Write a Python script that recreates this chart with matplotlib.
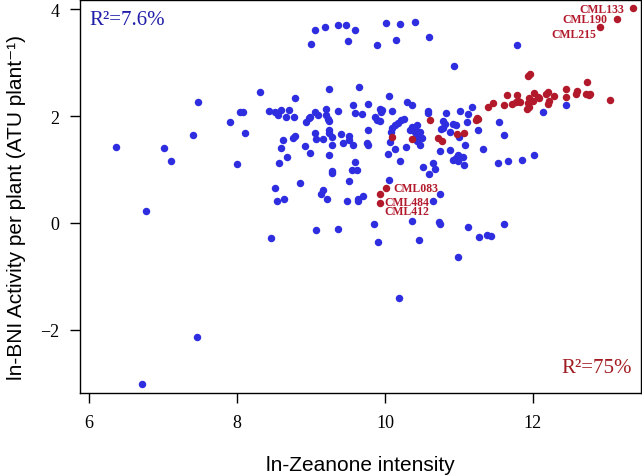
import matplotlib
matplotlib.use("Agg")
import matplotlib.pyplot as plt

# blue: all lines
blue_x = [6.36, 6.72, 6.77, 7.02, 7.11, 7.41, 7.46, 7.48, 7.91, 8.00, 8.04, 8.08, 8.11, 8.31, 8.44,
          8.46, 8.51, 8.52, 8.54, 8.56, 8.57, 8.59, 8.59, 8.62, 8.64, 8.67, 8.68, 8.71, 8.76, 8.77,
          8.79, 8.79, 8.85, 8.92, 8.94, 8.97, 8.99, 8.99, 9.00, 9.06, 9.06, 9.06, 9.07, 9.07, 9.10,
          9.14, 9.17, 9.17, 9.19, 9.20, 9.21, 9.22, 9.23, 9.24, 9.24, 9.24, 9.24, 9.25, 9.28, 9.28,
          9.29, 9.29, 9.36, 9.36, 9.37, 9.40, 9.43, 9.48, 9.49, 9.50, 9.51, 9.51, 9.52, 9.56, 9.57,
          9.57, 9.59, 9.60, 9.60, 9.62, 9.63, 9.64, 9.65, 9.69, 9.70, 9.76, 9.77, 9.77, 9.77, 9.85,
          9.86, 9.89, 9.89, 9.91, 9.93, 9.93, 9.95, 9.96, 10.02, 10.04, 10.05, 10.06, 10.07, 10.08, 10.09,
          10.10, 10.13, 10.14, 10.15, 10.18, 10.19, 10.20, 10.20, 10.22, 10.26, 10.28, 10.30, 10.34, 10.36, 10.37,
          10.37, 10.40, 10.41, 10.41, 10.43, 10.43, 10.43, 10.44, 10.46, 10.47, 10.48, 10.50, 10.52, 10.58, 10.58,
          10.59, 10.60, 10.65, 10.65, 10.67, 10.73, 10.74, 10.75, 10.75, 10.76, 10.78, 10.79, 10.81, 10.82, 10.88,
          10.88, 10.92, 10.92, 10.94, 10.96, 10.96, 10.99, 10.99, 10.99, 11.00, 11.02, 11.06, 11.07, 11.08, 11.11,
          11.12, 11.12, 11.17, 11.26, 11.27, 11.32, 11.38, 11.44, 11.53, 11.54, 11.61, 11.61, 11.66, 11.78, 11.85,
          12.01, 12.14, 12.45]
blue_y = [1.43, -3.02, 0.22, 1.40, 1.16, 1.64, -2.14, 2.27, 1.88, 1.10, 2.08, 2.08, 1.68, 2.45, 2.09,
          -0.28, 2.07, 0.65, 0.42, 2.02, 1.13, 2.11, 1.40, 1.55, 0.45, 1.99, 1.24, 2.11, 1.58, 1.99,
          1.62, 2.33, 0.75, 1.44, 1.89, 1.96, 1.99, 1.30, 3.35, 3.61, 2.07, 1.68, 1.57, -0.14, 2.02,
          0.55, 0.62, 1.57, 3.67, 2.13, 2.02, 0.45, 1.94, 1.91, 2.50, 1.74, 1.28, 1.68, 1.61, 0.93,
          0.97, 1.45, 3.71, -0.12, 2.09, 1.66, 1.49, 3.71, 0.41, 3.41, 1.63, 1.56, 0.79, 0.99, 1.46,
          2.21, 1.14, 2.06, 3.61, 0.99, 0.41, 0.45, 2.54, 2.04, 0.51, 1.50, 1.45, 1.74, 2.22, -0.02,
          1.99, 1.93, 3.32, -0.36, 1.91, 2.13, 2.07, 2.11, 3.74, 1.29, 2.37, 0.81, 1.51, 1.70, 1.77,
          2.09, 1.39, 1.83, 3.43, 1.87, -1.40, 3.73, 1.16, 1.92, 1.94, 1.43, 2.27, 1.73, 0.04, 2.20,
          1.79, 1.58, 1.71, 3.76, 1.83, 1.66, 1.53, 1.71, -0.32, 1.70, 1.45, 1.58, 1.05, 2.10, 2.05,
          3.48, 0.92, 1.13, 0.42, 1.01, 0.02, 0.54, -0.02, 1.35, 1.76, 1.78, 1.91, 1.85, 2.05, 1.71,
          1.37, 1.85, 1.17, 2.94, 1.84, 1.22, -0.64, 1.28, 1.16, 1.61, 2.10, 1.23, 1.08, 1.45, 1.89,
          2.04, -0.07, 2.17, 1.74, -0.26, 1.38, -0.22, -0.24, 1.12, 1.89, 1.65, -0.01, 1.16, 3.33, 1.17,
          1.27, 2.08, 2.20]

# red: CML lines
red_x = [13.35, 13.13, 12.91, 10.01, 9.93, 9.94,
         10.09, 10.36, 10.61, 10.72, 10.77, 10.98, 11.07, 11.24, 11.26, 11.23, 11.39, 11.46, 11.61, 11.65,
         11.72, 11.77, 11.78, 11.80, 11.83, 11.92, 11.93, 11.93, 11.94, 11.95, 11.96, 12.00, 12.02, 12.07,
         12.08, 12.18, 12.21, 12.21, 12.22, 12.28, 12.45, 12.45, 12.58, 12.59, 12.72, 12.73, 12.76, 12.77,
         13.04]
red_y = [4.02, 3.81, 3.67, 0.66, 0.54, 0.38,
         1.60, 1.57, 1.93, 1.58, 1.53, 1.66, 1.68, 1.97, 1.94, 1.92, 2.16, 2.25, 2.21, 2.40,
         2.22, 2.26, 2.39, 2.29, 2.27, 2.14, 2.24, 2.74, 2.33, 2.16, 2.78, 2.28, 2.43, 2.36,
         2.33, 2.42, 2.45, 2.22, 2.28, 2.38, 2.51, 2.36, 2.42, 2.47, 2.42, 2.64, 2.39, 2.42,
         2.30]

blue = '#2e2ee0'
red = '#b21a2c'
serif = ['Liberation Serif', 'DejaVu Serif']
sans = ['Liberation Sans', 'DejaVu Sans']

fig = plt.figure(figsize=(6.42, 4.77), dpi=100)
ax = fig.add_axes([80 / 642, 1 - 394 / 477, 561 / 642, 393 / 477])

ax.scatter(blue_x, blue_y, s=29, color=blue, linewidths=0, zorder=2)
ax.scatter(red_x, red_y, s=29, color=red, linewidths=0, zorder=3)

ax.text(13.23, 4.01, 'CML133', color=red, fontsize=8.5, fontweight='bold', family=serif, ha='right', va='center')
ax.text(13.00, 3.81, 'CML190', color=red, fontsize=8.5, fontweight='bold', family=serif, ha='right', va='center')
ax.text(12.85, 3.53, 'CML215', color=red, fontsize=8.5, fontweight='bold', family=serif, ha='right', va='center')
ax.text(10.11, 0.66, 'CML083', color=red, fontsize=8.5, fontweight='bold', family=serif, ha='left', va='center')
ax.text(9.99, 0.39, 'CML484', color=red, fontsize=8.5, fontweight='bold', family=serif, ha='left', va='center')
ax.text(9.99, 0.23, 'CML412', color=red, fontsize=8.5, fontweight='bold', family=serif, ha='left', va='center')

ax.text(0.017, 0.975, 'R²=7.6%', transform=ax.transAxes, color='#1e1ea8', fontsize=15,
        family=serif, ha='left', va='top')
ax.text(0.983, 0.04, 'R²=75%', transform=ax.transAxes, color='#a01c22', fontsize=15,
        family=serif, ha='right', va='bottom')

ax.set_xlim(5.88, 13.46)
ax.set_ylim(-3.18, 4.17)
ax.set_xticks([6, 8, 10, 12])
ax.set_yticks([-2, 0, 2, 4])
ax.tick_params(direction='out', length=7, width=1, labelsize=13, pad=8)
for lab in ax.get_xticklabels() + ax.get_yticklabels():
    lab.set_family(serif)

ax.set_xlabel('ln-Zeanone intensity', fontsize=15, family=sans)
ax.set_ylabel('ln-BNI Activity per plant (ATU plant⁻¹)', fontsize=15, family=sans)
ax.xaxis.set_label_coords(0.5, -0.158)
ax.yaxis.set_label_coords(-0.096, 0.475)

for sp in ax.spines.values():
    sp.set_linewidth(1)

fig.savefig('out.png', dpi=100)
